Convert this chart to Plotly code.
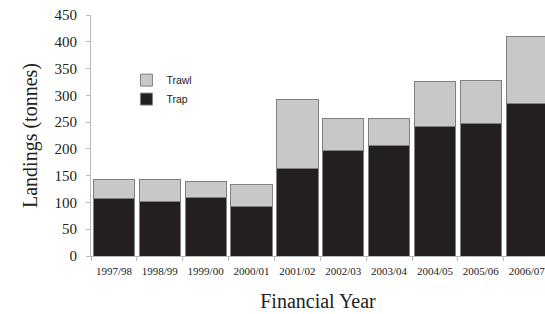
import plotly.graph_objects as go

years = ["1997/98", "1998/99", "1999/00", "2000/01", "2001/02",
         "2002/03", "2003/04", "2004/05", "2005/06", "2006/07"]
trap = [107, 101, 110, 92, 164, 197, 206, 242, 248, 285]
trawl = [35, 41, 30, 41, 129, 59, 50, 84, 80, 124]
y_ticks = [0, 50, 100, 150, 200, 250, 300, 350, 400, 450]

fig = go.Figure()
fig.add_trace(go.Bar(x=years, y=trap, name="Trap",
                     marker=dict(color="#231f20", line=dict(color="#808080", width=1))))
fig.add_trace(go.Bar(x=years, y=trawl, name="Trawl",
                     marker=dict(color="#c8c8ca", line=dict(color="#808080", width=1))))

serif = "Liberation Serif"
fig.update_layout(
    width=545, height=314,
    barmode="stack", bargap=0.1,
    paper_bgcolor="white", plot_bgcolor="white",
    margin=dict(l=91, r=0, t=15, b=58, autoexpand=False),
    showlegend=True,
    legend=dict(x=0.078, y=0.79, xanchor="left", yanchor="top",
                traceorder="reversed", bgcolor="rgba(0,0,0,0)",
                font=dict(family="Liberation Sans", size=10.5, color="#222"),
                itemwidth=30, tracegroupgap=0),
    xaxis=dict(range=[-0.5, 9.4], showline=True, linecolor="#bbbbbb", linewidth=1,
               automargin=False,
               ticks="outside", tickson="boundaries", ticklen=4, tickcolor="#bbbbbb",
               ticklabelstandoff=5,
               tickfont=dict(family=serif, size=11, color="#222"),
               title=dict(text="Financial Year", font=dict(family=serif, size=20, color="#222"),
                          standoff=17),
               showgrid=False),
    yaxis=dict(range=[0, 450], tickvals=y_ticks, showline=True, linecolor="#bbbbbb",
               automargin=False, ticklabeloverflow="allow",
               linewidth=1, ticks="outside", ticklen=4, tickcolor="#bbbbbb",
               tickfont=dict(family=serif, size=15, color="#222"),
               ticklabelstandoff=6,
               title=dict(text="Landings (tonnes)", font=dict(family=serif, size=20, color="#222"),
                          standoff=11),
               showgrid=False, zeroline=False),
)
fig.write_html("out.html", config={"displayModeBar": False},
               post_script="document.body.style.margin='0';document.body.style.overflow='hidden';")
